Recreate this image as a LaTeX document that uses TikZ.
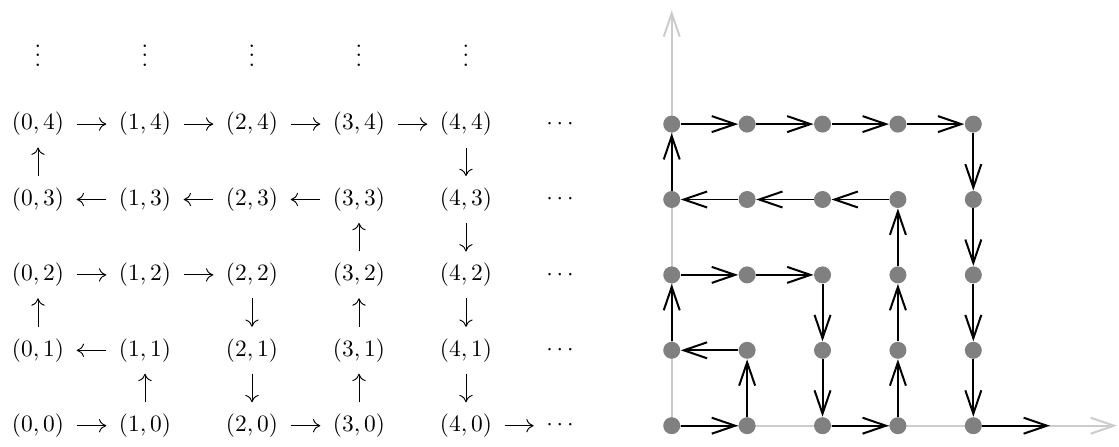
\documentclass[tikz,border=0pt]{standalone}
\usetikzlibrary{arrows.meta}

\begin{document}
\begin{tikzpicture}[
  pr/.style={inner xsep=5.2pt, inner ysep=4.8pt},
  glyph/.style={line width=0.4pt,
             -{Computer Modern Rightarrow[length=1.1mm,width=2mm]}},
  gdot/.style={circle, fill=gray, inner sep=0pt, minimum size=2.55mm},
  hop/.style={line width=0.85pt, -{Straight Barb[length=3.5mm,width=2.4mm]}},
  axisline/.style={gray!40, line width=0.85pt, -{Straight Barb[length=3.5mm,width=2.4mm]}}]
\useasboundingbox (0,0) rectangle (16.785,6.69);
% left: the pairs (i,j)
\foreach \i in {0,...,4} {
  \foreach \j in {0,...,4}
    \node[pr] (p\i\j) at ({0.57+1.605*\i},{0.3045+1.131*\j}) {$(\i,\j)$};
  \node[pr] (v\i) at ({0.57+1.605*\i},{0.3045+1.131*5}) {$\vdots$};
  \node[pr] (h\i) at (8.4,{0.3045+1.131*\i}) {$\cdots$};
}
% right: the same walk on the grid
\begin{scope}[shift={(10.076,0.3045)}, x=1.131cm, y=1.131cm]
\coordinate (o) at (0,0);
\coordinate (ytop) at (0,5.51);
\coordinate (xend) at (5.906,0);
\coordinate (out) at (5.017,0);
\draw[axisline] (o) -- (ytop);
\draw[axisline] (o) -- (xend);
\foreach \i in {0,...,4}
  \foreach \j in {0,...,4}
    \node[gdot] (d\i\j) at (\i,\j) {};
\end{scope}
\foreach \a/\b in {00/10,10/11,11/01,01/02,02/12,12/22,22/21,21/20,20/30,30/31,
                   31/32,32/33,33/23,23/13,13/03,03/04,04/14,14/24,24/34,34/44,
                   44/43,43/42,42/41,41/40} {
  \draw[glyph] (p\a) -- (p\b);
  \draw[hop] (d\a) -- (d\b);
}
\draw[glyph] (p40) -- (h0);
\draw[hop] (d40) -- (out);
\end{tikzpicture}
\end{document}
